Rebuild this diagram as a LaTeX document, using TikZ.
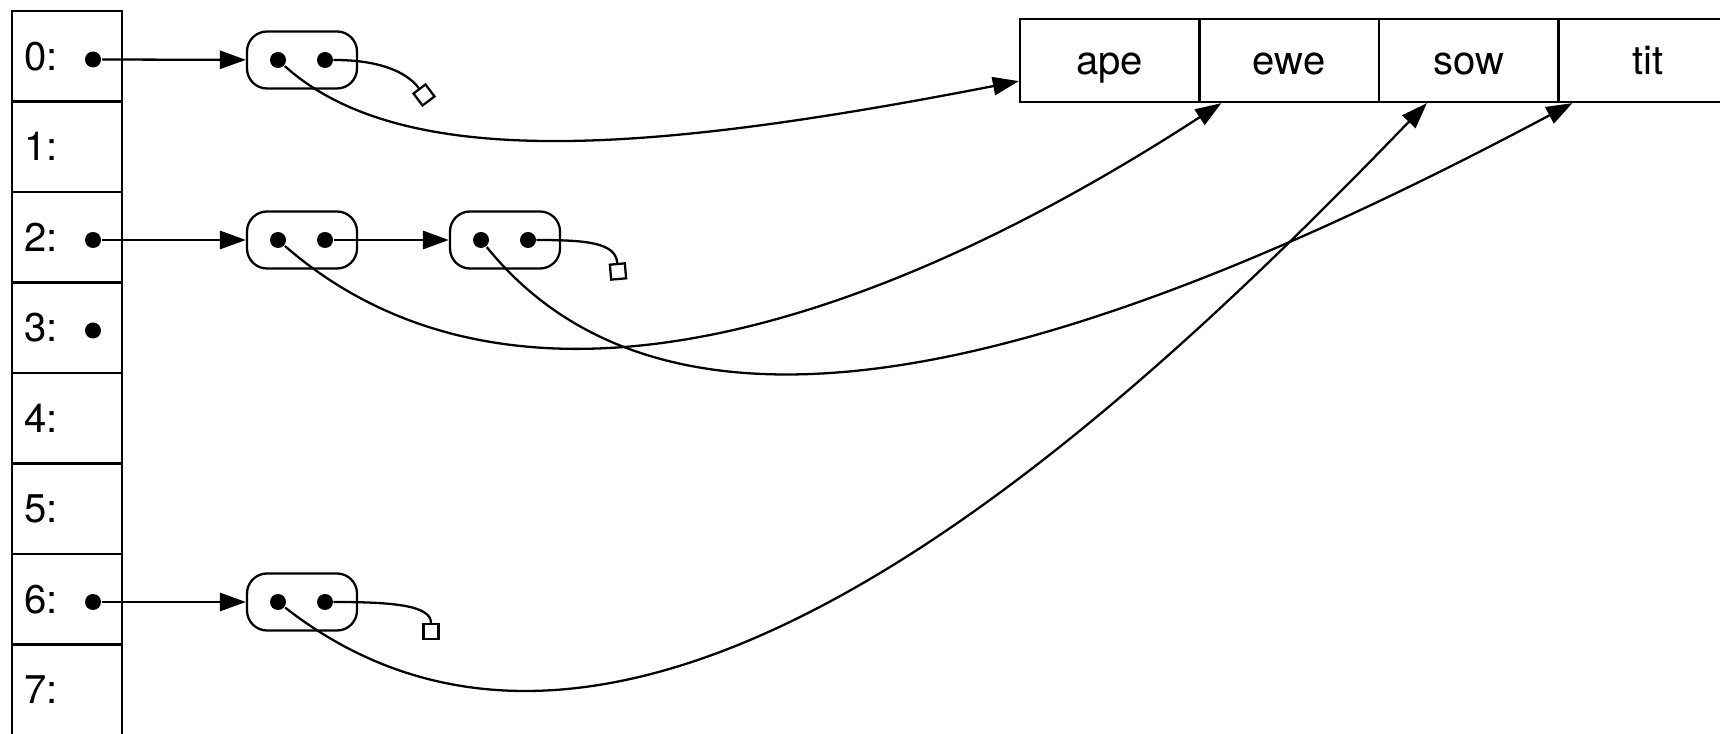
\documentclass[tikz,border=0pt]{standalone}
\usepackage{fontspec}
\setmainfont{TeX Gyre Heros}
\usepackage{tikz}
\usetikzlibrary{positioning,arrows.meta,calc}

\begin{document}
\begin{tikzpicture}[
  line width=0.65pt,
  slot/.style={rectangle, draw=black, minimum width=1.10cm, minimum height=0.905cm, inner sep=0pt},
  slotlbl/.style={anchor=west, inner sep=0pt, font={\fontsize{11.4pt}{13pt}\selectfont}},
  pt/.style={circle, fill=black, minimum size=0.16cm, inner sep=0pt},
  pairbox/.style={rectangle, draw=black, rounded corners=0.2cm, minimum width=1.10cm, minimum height=0.57cm, inner sep=0pt},
  nilbox/.style={rectangle, draw=black, fill=white, minimum size=0.15cm, inner sep=0pt},
  cell/.style={rectangle, draw=black, minimum width=1.795cm, minimum height=0.83cm, inner sep=0pt, text height=8.2pt, text depth=0pt, font={\fontsize{11.4pt}{13pt}\selectfont}},
  ptr/.style={-{Triangle[length=7.4pt,width=5.2pt]}},
  nilptr/.style={line cap=round}
]
\useasboundingbox (0,0) rectangle (17.20,-7.34);
\node[slot] (s0) at (0.67,-0.5625) {};
\node[slot] (s1) at (0.67,-1.4675) {};
\node[slot] (s2) at (0.67,-2.3725) {};
\node[slot] (s3) at (0.67,-3.2775) {};
\node[slot] (s4) at (0.67,-4.1825) {};
\node[slot] (s5) at (0.67,-5.0875) {};
\node[slot] (s6) at (0.67,-5.9925) {};
\node[slot] (s7) at (0.67,-6.8975) {};
\node[slotlbl] (l0) at (0.23,-0.5625) {0:};
\node[slotlbl] (l1) at (0.23,-1.4675) {1:};
\node[slotlbl] (l2) at (0.23,-2.3725) {2:};
\node[slotlbl] (l3) at (0.23,-3.2775) {3:};
\node[slotlbl] (l4) at (0.23,-4.1825) {4:};
\node[slotlbl] (l5) at (0.23,-5.0875) {5:};
\node[slotlbl] (l6) at (0.23,-5.9925) {6:};
\node[slotlbl] (l7) at (0.23,-6.8975) {7:};
\node[pt] (d0) at (0.93,-0.595) {};
\node[pt] (d2) at (0.93,-2.40) {};
\node[pt] (d3) at (0.93,-3.305) {};
\node[pt] (d6) at (0.93,-6.02) {};

\node[pairbox] (p0) at (3.02,-0.60) {};
\node[pairbox] (p2) at (3.02,-2.40) {};
\node[pairbox] (p2b) at (5.05,-2.40) {};
\node[pairbox] (p6) at (3.02,-6.02) {};
\node[pt] (pl0) at (2.78,-0.60) {};
\node[pt] (pr0) at (3.25,-0.60) {};
\node[pt] (pl2) at (2.78,-2.40) {};
\node[pt] (pr2) at (3.25,-2.40) {};
\node[pt] (pl2b) at (4.81,-2.40) {};
\node[pt] (pr2b) at (5.28,-2.40) {};
\node[pt] (pl6) at (2.78,-6.02) {};
\node[pt] (pr6) at (3.25,-6.02) {};
\node[nilbox, rotate=37] (nil0) at (4.24,-0.95) {};
\node[nilbox, rotate=5] (nil2) at (6.18,-2.715) {};
\node[nilbox] (nil6) at (4.31,-6.315) {};

\node[cell] (ape) at (11.0975,-0.605) {ape};
\node[cell] (ewe) at (12.8925,-0.605) {ewe};
\node[cell] (sow) at (14.6875,-0.605) {sow};
\node[cell] (tit) at (16.4825,-0.605) {tit};

\draw[ptr] (d0) -- (p0);
\draw[ptr] (d2) -- (p2);
\draw[ptr] (d6) -- (p6);
\draw[ptr] (pr2) -- (p2b);
\draw[nilptr] (pr0) .. controls +(0.55,0) and +(127:0.2) .. (nil0.north);
\draw[nilptr] (pr2b) .. controls +(0.6,0) and +(95:0.2) .. (nil2.north);
\draw[nilptr] (pr6) .. controls +(0.65,0) and +(90:0.18) .. (nil6.north);
\draw[ptr] (pl0) .. controls +(-42:1.7) and +(191:3.7) .. ($(ape.south west)+(0,0.22)$);
\draw[ptr] (pl2) .. controls +(-41:3.2) and +(213:4.0) .. ($(ewe.south west)+(0.23,0)$);
\draw[ptr] (pl2b) .. controls +(-51:3.25) and +(208:5.2) .. ($(tit.south west)+(0.15,0)$);
\draw[ptr] (pl6) .. controls +(-38:4.5) and +(226:4.5) .. ($(sow.south west)+(0.49,0)$);
\end{tikzpicture}
\end{document}
